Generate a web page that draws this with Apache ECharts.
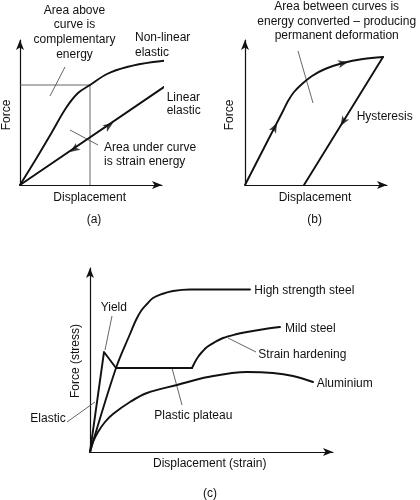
<!DOCTYPE html>
<html><head><meta charset="utf-8">
<script src="https://cdn.jsdelivr.net/npm/echarts/dist/echarts.min.js"></script>
<style>html,body{margin:0;padding:0;background:#fff}#c{width:420px;height:500px}</style>
</head><body><div id="c"></div>
<script>
// ---------- Panel (a): elastic behaviour ----------
const aNonLinear = [[0,0],[16,26],[32,53],[46,77],[58,92],[70,100],[87,111],[107,118],[133,123],[163,126]];
const aLinear = [[0,0],[166,113]];
const aBox = [[0,100],[70,100],[70,0]];
const aLeaders = [[[45,118],[30,89]], [[50,55],[78,40]]];
const aArrows = [[93,62,34.2],[50,33,214.2]];          // x, y, direction of travel (deg)

// ---------- Panel (b): hysteresis ----------
const bLoading = [[0,0],[20,39],[38,74],[43,84],[49,93],[57,101],[67,109],[80,116],[98,122],[118,126],[138,128]];
const bUnloading = [[138,128],[59,0]];
const bLeaders = [[[53,134],[68,82]]];
const bArrows = [[32,62,62.8],[103,123,13],[95.5,59,238.3]];

// ---------- Panel (c): stress-strain of metals ----------
const cHighStrength = [[0,0],[26,84],[40,118],[46,132],[51,141],[57,148],[63,154],[72,158],[83,161],[100,162.5],[160,162.5]];
const cMildElastic = [[0,0],[14,100],[26,84],[102,84]];
const cMildHardening = [[102,84],[105,90],[108,95],[112,100],[117,105],[125,110],[133,114],[145,117.5],[157,120],[175,123],[190,125]];
const cAluminium = [[0,0],[3,10],[8,20],[15,30],[23,38],[40,50],[57,59],[87,67],[118,75],[157,80],[183,79],[203,76],[223,70]];
const cLeaders = [[[22,136],[15,102]], [[-23,30],[5,50]], [[82,84],[92,47]], [[138,114],[166,100]]];

// text labels
const FONT = '12px "Liberation Sans", Arial, sans-serif';
const texts = [
  ['Area above',74.5,10.3,'center'],['curve is',74.5,25,'center'],['complementary',74.5,39.6,'center'],['energy',74.5,54.2,'center'],
  ['Non-linear',135,37.8,'left'],['elastic',135,52.4,'left'],
  ['Linear',166.7,97.5,'left'],['elastic',166.7,110.2,'left'],
  ['Area under curve',104,147.5,'left'],['is strain energy',104,161.5,'left'],
  ['Force',6.7,115,'center',true],['Displacement',89.7,198,'center'],['(a)',94,220,'center'],
  ['Area between curves is',336.7,6.3,'center'],['energy converted \u2013 producing',336.7,21.5,'center'],['permanent deformation',336.7,36,'center'],
  ['Hysteresis',356.7,116.5,'left'],
  ['Force',230,115,'center',true],['Displacement',315,198,'center'],['(b)',314.7,220,'center'],
  ['High strength steel',254.3,291,'left'],['Mild steel',285,328.5,'left'],['Strain hardening',258.3,355,'left'],
  ['Aluminium',316.7,384,'left'],['Yield',113.8,308,'center'],['Elastic',65.7,419,'right'],['Plastic plateau',154.3,416,'left'],
  ['Force (stress)',75.7,361,'center',true],['Displacement (strain)',209.7,464,'center'],['(c)',210,494,'center']
];

const grids = [
  {left:20, top:40, width:142, height:145},
  {left:245, top:40, width:142, height:145},
  {left:90, top:268, width:243, height:184},
  {left:60, top:268, width:273, height:184}   // annotation layer for panel (c), same scale, extends left of the axis
];
const axisLineCfg = {show:true, onZero:false, symbol:['none','arrow'], symbolSize:[6,10], lineStyle:{color:'#111', width:1.2}};
const hidden = {axisLine:{show:false}, axisTick:{show:false}, axisLabel:{show:false}, splitLine:{show:false}};
const xAxis = grids.slice(0,3).map((g,i)=>({gridIndex:i, type:'value', min:0, max:g.width, axisLine:axisLineCfg, axisTick:{show:false}, axisLabel:{show:false}, splitLine:{show:false}}));
const yAxis = grids.slice(0,3).map((g,i)=>({gridIndex:i, type:'value', min:0, max:g.height, axisLine:axisLineCfg, axisTick:{show:false}, axisLabel:{show:false}, splitLine:{show:false}}));
xAxis.push(Object.assign({gridIndex:3, type:'value', min:-30, max:243}, hidden));
yAxis.push(Object.assign({gridIndex:3, type:'value', min:0, max:184}, hidden));

function curve(gi, data, smooth){
  return {type:'line', xAxisIndex:gi, yAxisIndex:gi, data:data, symbol:'none', clip:false, smooth:smooth||false, silent:true,
    lineStyle:{color:'#111', width:1.9, cap:'round', join:'round'}, z:3};
}
function thin(gi, data){
  return {type:'line', xAxisIndex:gi, yAxisIndex:gi, data:data, symbol:'none', clip:false, silent:true,
    lineStyle:{color:'#555', width:0.9}, z:2};
}
function arrows(gi, list){
  return {type:'scatter', xAxisIndex:gi, yAxisIndex:gi, symbol:'arrow', symbolSize:[6,10], clip:false, silent:true,
    itemStyle:{color:'#111'}, z:4,
    data:list.map(a=>({value:[a[0],a[1]], symbolRotate:a[2]-90}))};
}

const series = [
  thin(0,aBox),
  curve(0,aNonLinear,0.35), curve(0,aLinear),
  ...aLeaders.map(l=>thin(0,l)),
  arrows(0,aArrows),
  curve(1,bLoading,0.35), curve(1,bUnloading),
  ...bLeaders.map(l=>thin(1,l)),
  arrows(1,bArrows),
  curve(2,cHighStrength,0.35), curve(2,cMildElastic), curve(2,cMildHardening,0.35), curve(2,cAluminium,0.35),
  ...cLeaders.map(l=>thin(3,l))
];

const graphic = texts.map(t=>({
  type:'text', x:t[1], y:t[2], rotation: t[4] ? Math.PI/2 : 0, silent:true,
  style:{text:t[0], font:FONT, fill:'#111', textAlign:t[3], textVerticalAlign:'middle'}
}));

const chart = echarts.init(document.getElementById('c'), null, {renderer:'canvas'});
chart.setOption({animation:false, backgroundColor:'#fff', grid:grids, xAxis, yAxis, series, graphic});
</script></body></html>
